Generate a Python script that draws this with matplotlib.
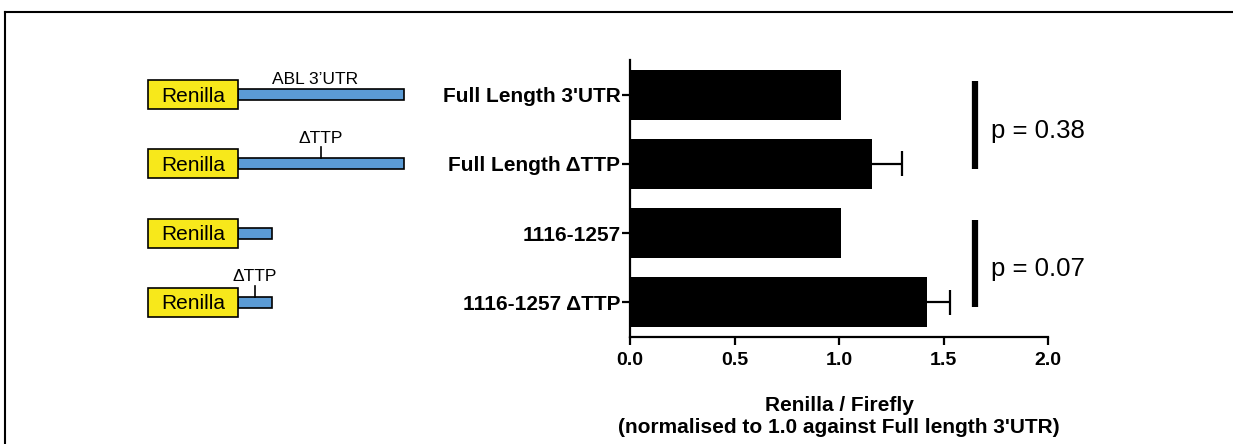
import numpy as np
import matplotlib.pyplot as plt
from matplotlib.patches import Rectangle
from matplotlib.lines import Line2D

plt.rcParams['font.family'] = ['Liberation Sans', 'DejaVu Sans']

# data
constructs = ["Full Length 3'UTR", "Full Length ΔTTP", "1116-1257", "1116-1257 ΔTTP"]
ratios = [1.01, 1.16, 1.01, 1.42]
errors = [0.0, 0.14, 0.0, 0.11]
# schematic: 3'UTR length and TTP site position (diagram units)
utr_len = [166, 166, 34, 34]
ttp_site = [None, 83, None, 17]
p_pairs = [(0, 1), (2, 3)]
p_labels = ["p = 0.38", "p = 0.07"]

fig = plt.figure(figsize=(12.33, 4.44), dpi=100)
W, H = 1233, 444
ax = fig.add_axes([630 / W, 1 - 337 / H, 418 / W, 277 / H])
ypos = np.arange(len(constructs))

ax.barh(ypos, ratios, height=0.72, color="black")
# one-sided error bars (only to the right of the bar end)
for y, r, e in zip(ypos, ratios, errors):
    if e > 0:
        ax.hlines(y, r, r + e, color="black", lw=1.6)
        ax.vlines(r + e, y - 0.18, y + 0.18, color="black", lw=1.6)
ax.set_ylim(3.5, -0.5)
ax.set_xlim(0, 2.0)
ax.set_xticks([0, 0.5, 1.0, 1.5, 2.0])
ax.set_xticklabels(["0.0", "0.5", "1.0", "1.5", "2.0"], fontweight="bold", fontsize=14)
ax.set_yticks(ypos)
ax.set_yticklabels(constructs, fontweight="bold", fontsize=15)
for s in ["top", "right"]:
    ax.spines[s].set_visible(False)
for s in ["left", "bottom"]:
    ax.spines[s].set_linewidth(1.6)
ax.tick_params(axis="both", length=6, width=1.6, direction="out")
ax.tick_params(axis="y", pad=1)
ax.tick_params(axis="x", pad=5)
ax.set_xlabel("Renilla / Firefly\n(normalised to 1.0 against Full length 3'UTR)",
              fontweight="bold", fontsize=15, labelpad=19, linespacing=1.2)

# significance brackets
for (a, b), lab in zip(p_pairs, p_labels):
    ax.plot([1.65, 1.65], [a - 0.19, b + 0.07], color="black", lw=4.5,
            clip_on=False, solid_capstyle="butt")
    ax.text(1.725, (a + b) / 2 + 0.02, lab, fontsize=18.5, va="center", ha="left",
            clip_on=False)

# construct schematics, sharing the row positions of the bar chart
dax = fig.add_axes([0, 1 - 337 / H, 630 / W, 277 / H], sharey=ax)
dax.set_xlim(0, 630)
dax.axis("off")
box_x, box_w = 148, 90
for i, (L, site) in enumerate(zip(utr_len, ttp_site)):
    dax.add_patch(Rectangle((box_x + box_w, i - 0.08), L, 0.16, facecolor="#5b9bd5",
                            edgecolor="black", lw=1.2))
    dax.add_patch(Rectangle((box_x, i - 0.21), box_w, 0.42, facecolor="#f7e81b",
                            edgecolor="black", lw=1.2))
    dax.text(box_x + box_w / 2, i + 0.02, "Renilla", fontsize=15, ha="center", va="center")
    if site is not None:
        sx = box_x + box_w + site
        dax.plot([sx, sx], [i - 0.08, i - 0.24], color="black", lw=1.2)
        dax.text(sx, i - 0.26, "ΔTTP", fontsize=12.5, ha="center", va="bottom")
    if i == 0:
        dax.text(box_x + box_w + 77, i - 0.11, "ABL 3’UTR", fontsize=12.5, ha="center",
                 va="bottom")

# frame lines at top and left
fig.add_artist(Line2D([5 / W, 5 / W], [0, 1 - 12 / H], color="black", lw=1.5))
fig.add_artist(Line2D([5 / W, 1], [1 - 12 / H, 1 - 12 / H], color="black", lw=1.5))

fig.savefig("out.png", dpi=100)
